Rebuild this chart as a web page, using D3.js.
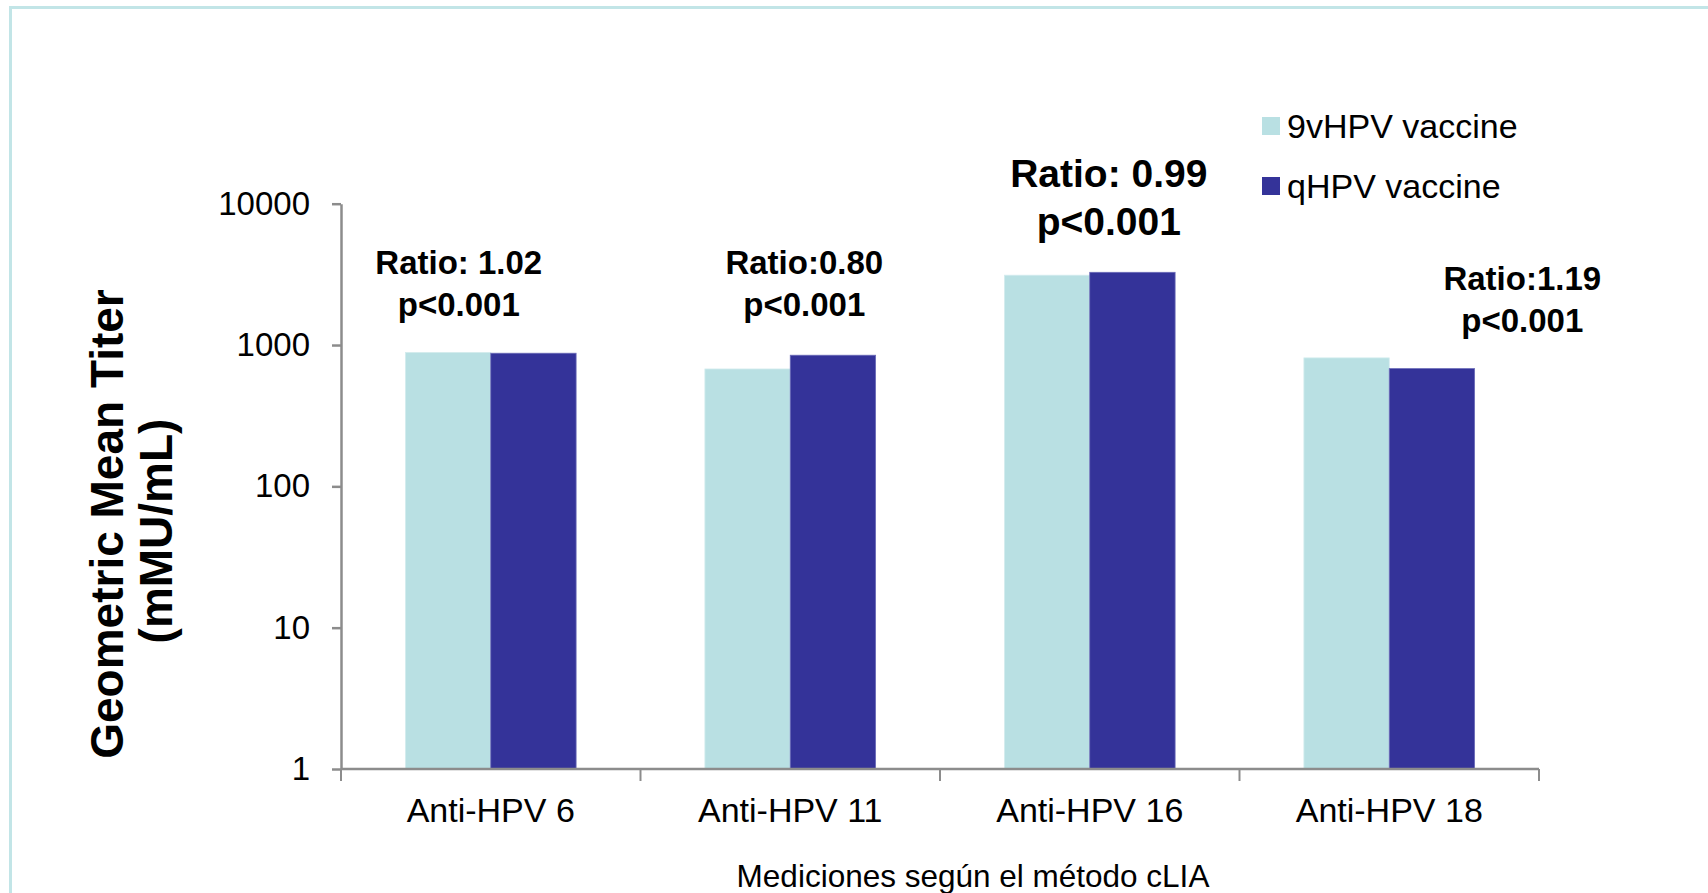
<!DOCTYPE html>
<html>
<head>
<meta charset="utf-8">
<script src="https://cdn.jsdelivr.net/npm/d3@7"></script>
<style>
  html, body { margin: 0; padding: 0; background: #ffffff; }
  svg { display: block; font-family: "Liberation Sans", Arial, sans-serif; }
</style>
</head>
<body>
<svg id="chart" width="1708" height="893"></svg>
<script>
// ---- data ----
const categories = ["Anti-HPV 6", "Anti-HPV 11", "Anti-HPV 16", "Anti-HPV 18"];
const seriesNames = ["9vHPV vaccine", "qHPV vaccine"];
const gmt9v = [887, 677, 3120, 811];
const gmtQ = [875, 847, 3270, 681];
const ratioLabels = ["Ratio: 1.02", "Ratio:0.80", "Ratio: 0.99", "Ratio:1.19"];
const pLabels = ["p<0.001", "p<0.001", "p<0.001", "p<0.001"];
const yTickValues = [1, 10, 100, 1000, 10000];
const yTitleLines = ["Geometric Mean Titer", "(mMU/mL)"];
const xTitle = "Mediciones según el método cLIA";

// ---- styles / layout ----
const colors = ["#b9e0e3", "#343399"];
const axisColor = "#8c8c8c";
const svg = d3.select("#chart");
const W = 1708, H = 893;
const plot = { left: 341, right: 1539, top: 203.7, bottom: 769 };

// frame border
svg.append("path")
  .attr("d", `M10.5,${H + 5} V7.5 H${W + 5}`)
  .attr("fill", "none")
  .attr("stroke", "#c2e5e7")
  .attr("stroke-width", 3);

const x0 = d3.scaleBand().domain(categories).range([plot.left, plot.right])
  .paddingInner(0.43).paddingOuter(0.215);
const x1 = d3.scaleBand().domain(seriesNames).range([0, x0.bandwidth()]);
const y = d3.scaleLog().domain([1, 10000]).range([plot.bottom, plot.top]);

const rows = categories.map((c, i) => ({ cat: c, vals: [gmt9v[i], gmtQ[i]] }));

// bars
const g = svg.append("g");
rows.forEach(r => {
  r.vals.forEach((v, j) => {
    g.append("rect")
      .attr("x", x0(r.cat) + x1(seriesNames[j]))
      .attr("y", y(v))
      .attr("width", x1.bandwidth())
      .attr("height", y(1) - y(v))
      .attr("fill", colors[j])
      .attr("stroke", j === 1 ? "#6b6bb8" : "#d4ecee")
      .attr("stroke-width", 0.8);
  });
});

// y axis
const yAxis = d3.axisLeft(y).tickValues(yTickValues).tickFormat(d3.format("d"))
  .tickSizeInner(9).tickSizeOuter(0).tickPadding(22);
const ya = svg.append("g").attr("transform", `translate(${plot.left},0)`).call(yAxis);
ya.select(".domain").attr("stroke", axisColor).attr("stroke-width", 2.5);
ya.selectAll(".tick line").attr("stroke", axisColor).attr("stroke-width", 2.5);
ya.selectAll(".tick text").attr("font-size", 33).attr("fill", "#000")
  .attr("font-family", "Liberation Sans, Arial, sans-serif");

// x axis
svg.append("line")
  .attr("x1", plot.left).attr("x2", plot.right)
  .attr("y1", plot.bottom).attr("y2", plot.bottom)
  .attr("stroke", axisColor).attr("stroke-width", 2.5);
const boundaries = categories.map(c => x0(c) - x0.step() * x0.paddingInner() / 2);
boundaries.push(plot.right);
boundaries.forEach(bx => {
  svg.append("line")
    .attr("x1", bx).attr("x2", bx)
    .attr("y1", plot.bottom).attr("y2", plot.bottom + 12)
    .attr("stroke", axisColor).attr("stroke-width", 2);
});
svg.append("g").selectAll("text").data(categories).join("text")
  .attr("x", d => x0(d) + x0.bandwidth() / 2)
  .attr("y", 822)
  .attr("text-anchor", "middle")
  .attr("font-size", 34)
  .attr("fill", "#000")
  .text(d => d);

// x title
svg.append("text")
  .attr("x", 973).attr("y", 887)
  .attr("text-anchor", "middle")
  .attr("font-size", 31.5)
  .attr("fill", "#000")
  .text(xTitle);

// y title
const yTitlePos = [{ x: 123, y: 524 }, { x: 172, y: 531 }];
yTitleLines.forEach((t, i) => {
  svg.append("text")
    .attr("transform", `translate(${yTitlePos[i].x},${yTitlePos[i].y}) rotate(-90)`)
    .attr("text-anchor", "middle")
    .attr("font-size", 46)
    .attr("font-weight", "bold")
    .attr("fill", "#000")
    .text(t);
});

// ratio annotations (layout: offset from category centre, baselines, size)
const annLayout = [
  { dx: -32, y1: 274, y2: 316, fs: 33 },
  { dx: 14, y1: 274, y2: 316, fs: 33 },
  { dx: 19, y1: 187, y2: 235, fs: 39 },
  { dx: 133, y1: 290, y2: 332, fs: 33 }
];
categories.forEach((c, i) => {
  const cx = x0(c) + x0.bandwidth() / 2 + annLayout[i].dx;
  [ratioLabels[i], pLabels[i]].forEach((t, k) => {
    svg.append("text")
      .attr("x", cx)
      .attr("y", k === 0 ? annLayout[i].y1 : annLayout[i].y2)
      .attr("text-anchor", "middle")
      .attr("font-size", annLayout[i].fs)
      .attr("font-weight", "bold")
      .attr("fill", "#000")
      .text(t);
  });
});

// legend
const legendY = [117, 177];
seriesNames.forEach((s, i) => {
  svg.append("rect")
    .attr("x", 1262).attr("y", legendY[i])
    .attr("width", 18).attr("height", 18)
    .attr("fill", colors[i]);
  svg.append("text")
    .attr("x", 1287).attr("y", legendY[i] + 21)
    .attr("font-size", 34)
    .attr("fill", "#000")
    .text(s);
});
</script>
</body>
</html>
